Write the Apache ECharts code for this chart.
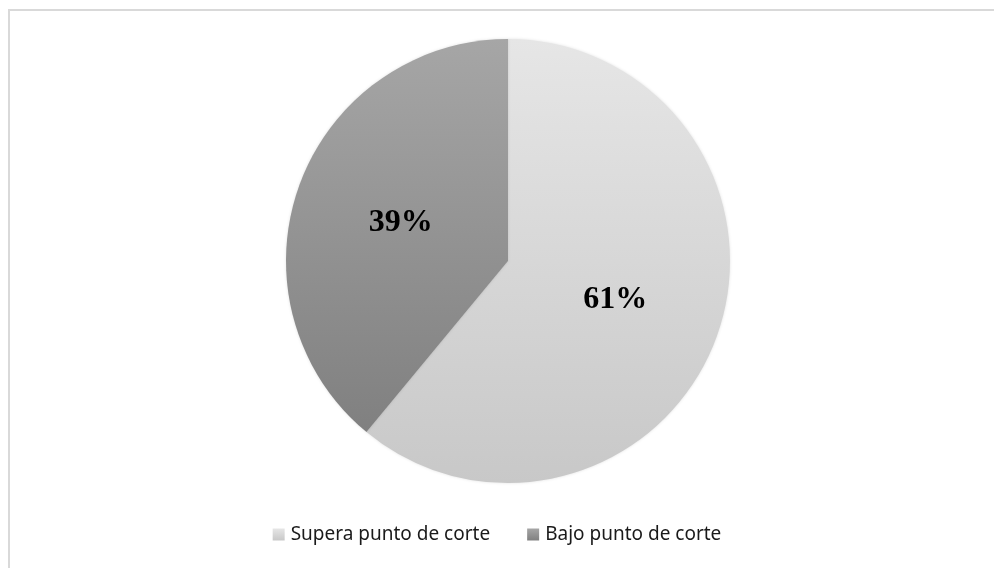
<!DOCTYPE html>
<html>
<head>
<meta charset="utf-8">
<script src="https://cdn.jsdelivr.net/npm/echarts@6/dist/echarts.min.js"></script>
<style>
  html, body { margin: 0; padding: 0; background: #ffffff; }
  #chart { width: 994px; height: 568px; }
</style>
</head>
<body>
<div id="chart"></div>
<script>
// Share of cases above / below the cut-off point
const categories = ['Supera punto de corte', 'Bajo punto de corte'];
const values = [61, 39];

// Vertical gradients for each slice (top colour, bottom colour)
const sliceColors = [
  ['#e6e6e6', '#c8c8c8'],
  ['#a6a6a6', '#808080']
];

function grad(pair) {
  return new echarts.graphic.LinearGradient(0, 0, 0, 1, [
    { offset: 0, color: pair[0] },
    { offset: 1, color: pair[1] }
  ]);
}

const chart = echarts.init(document.getElementById('chart'), null, { renderer: 'canvas' });

chart.setOption({
  animation: false,
  backgroundColor: '#ffffff',
  graphic: [{
    type: 'rect',
    shape: { x: 9, y: 10, width: 1000, height: 600 },
    style: { fill: 'none', stroke: '#d9d9d9', lineWidth: 2 },
    silent: true
  }],
  legend: {
    bottom: 19,
    left: 'center',
    itemWidth: 12,
    itemHeight: 12,
    itemGap: 37,
    icon: 'rect',
    textStyle: {
      fontFamily: '"Noto Sans", sans-serif',
      fontSize: 19,
      color: '#1a1a1a',
      padding: [0, 0, 0, 1]
    },
    data: categories
  },
  series: [{
    type: 'pie',
    center: [508, 261],
    radius: 222,
    startAngle: 90,
    clockwise: true,
    avoidLabelOverlap: false,
    label: {
      show: true,
      position: 'inside',
      formatter: '{c}%',
      fontFamily: '"Liberation Serif", "Times New Roman", serif',
      fontWeight: 'bold',
      fontSize: 32,
      color: '#000000'
    },
    labelLine: { show: false },
    itemStyle: {
      borderWidth: 0,
      shadowBlur: 3,
      shadowColor: 'rgba(0,0,0,0.12)'
    },
    emphasis: { disabled: true },
    data: categories.map((name, i) => ({
      name: name,
      value: values[i],
      itemStyle: { color: grad(sliceColors[i]) }
    }))
  }]
});
</script>
</body>
</html>
